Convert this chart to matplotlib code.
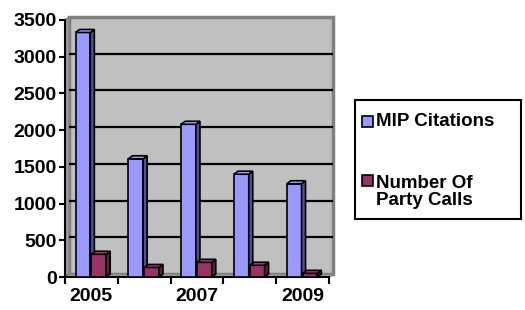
import matplotlib
matplotlib.use("Agg")
import matplotlib.pyplot as plt
import matplotlib.transforms as mtransforms
from matplotlib.patches import Polygon, Rectangle

# dados
anos = ['2005', '2006', '2007', '2008', '2009']
mip_citations = [3330, 1610, 2080, 1400, 1270]
party_calls = [310, 130, 200, 160, 50]
rotulos_x = ['2005', '', '2007', '', '2009']
ticks_y = [0, 500, 1000, 1500, 2000, 2500, 3000, 3500]

plt.rcParams['font.family'] = ['Liberation Sans', 'DejaVu Sans']
plt.rcParams['font.weight'] = 'bold'

W, H = 525, 310
fig = plt.figure(figsize=(W / 100, H / 100), dpi=100)
ax = fig.add_axes([65 / W, 1 - 277 / H, 264 / W, 257 / H])
ax.set_xlim(-0.5, len(anos) - 0.5)
ax.set_ylim(0, 3500)
ax.patch.set_visible(False)

# profundidade "3d" em pixels
dpx, dpy = 4, 3
px_x = (len(anos)) / 264.0
px_y = 3500 / 257.0
dx, dy = dpx * px_x, dpy * px_y

parede = mtransforms.offset_copy(ax.transData, fig=fig, x=dpx, y=dpy, units='dots')

# parede de fundo e grade
ax.add_patch(Rectangle((-0.5, 0), len(anos), 3500, transform=parede,
                       facecolor='#c0c0c0', edgecolor='#808080', lw=2.5,
                       zorder=0, clip_on=False))
ax.hlines(ticks_y[1:-1], -0.5, len(anos) - 0.5, colors='black', lw=1.6,
          transform=parede, zorder=1, clip_on=False)
# parede lateral e chao
ax.add_patch(Polygon([(-0.5, 0), (-0.5 + dx, dy), (-0.5 + dx, 3500 + dy), (-0.5, 3500)],
                     closed=True, facecolor='#9a9a9a', edgecolor='#808080', lw=1,
                     zorder=0.5, clip_on=False))
ax.add_patch(Polygon([(-0.5, 0), (len(anos) - 0.5, 0), (len(anos) - 0.5 + dx, dy), (-0.5 + dx, dy)],
                     closed=True, facecolor='#a0a0a0', edgecolor='#808080', lw=1,
                     zorder=0.5, clip_on=False))


def barras_3d(pos, vals, largura, cor, cor_lado, cor_topo):
    bars = ax.bar(pos, vals, largura, color=cor, edgecolor='black', lw=1.2, zorder=3)
    for b in bars:
        x0 = b.get_x()
        x1 = x0 + b.get_width()
        h = b.get_height()
        ax.add_patch(Polygon([(x1, 0), (x1 + dx, dy), (x1 + dx, h + dy), (x1, h)],
                             closed=True, facecolor=cor_lado, edgecolor='black',
                             lw=1.2, zorder=3, clip_on=False))
        ax.add_patch(Polygon([(x0, h), (x1, h), (x1 + dx, h + dy), (x0 + dx, h + dy)],
                             closed=True, facecolor=cor_topo, edgecolor='black',
                             lw=1.2, zorder=3, clip_on=False))


x = list(range(len(anos)))
larg = 0.28
barras_3d([i - 0.16 for i in x], mip_citations, larg, '#9999ff', '#4f4f9a', '#a8a8ff')
barras_3d([i + 0.14 for i in x], party_calls, larg, '#993366', '#5c1f3d', '#a34270')

# eixos
for s in ['top', 'right']:
    ax.spines[s].set_visible(False)
ax.spines['left'].set_linewidth(1.5)
ax.spines['bottom'].set_linewidth(1.5)
ax.set_yticks(ticks_y)
ax.set_yticklabels([str(t) for t in ticks_y], fontsize=14, fontweight='bold')
ax.set_xticks([i - 0.5 for i in range(len(anos) + 1)])
ax.set_xticklabels([])
ax.set_xticks(x, minor=True)
ax.set_xticklabels(rotulos_x, minor=True, fontsize=14, fontweight='bold')
ax.tick_params(axis='x', which='minor', length=0, pad=8)
ax.tick_params(axis='x', which='major', length=5, width=1.5, direction='out')
ax.tick_params(axis='y', length=4, width=1.5, pad=2)

# legenda manual
def fx(p):
    return p / W

def fy(p):
    return 1 - p / H

fig.patches.append(Rectangle((fx(355), fy(219)), (521 - 355) / W, (219 - 100) / H,
                             transform=fig.transFigure, facecolor='white',
                             edgecolor='black', lw=1.5))
fig.patches.append(Rectangle((fx(362), fy(127)), 11 / W, 11 / H, transform=fig.transFigure,
                             facecolor='#9999ff', edgecolor='black', lw=1.2))
fig.patches.append(Rectangle((fx(362), fy(186)), 11 / W, 11 / H, transform=fig.transFigure,
                             facecolor='#993366', edgecolor='black', lw=1.2))
fig.text(fx(376), fy(121), 'MIP Citations', fontsize=13.5, fontweight='bold', va='center')
fig.text(fx(376), fy(192), 'Number Of\nParty Calls', fontsize=13.5, fontweight='bold',
         va='center', linespacing=1.05)

plt.savefig('out.png', dpi=100)
